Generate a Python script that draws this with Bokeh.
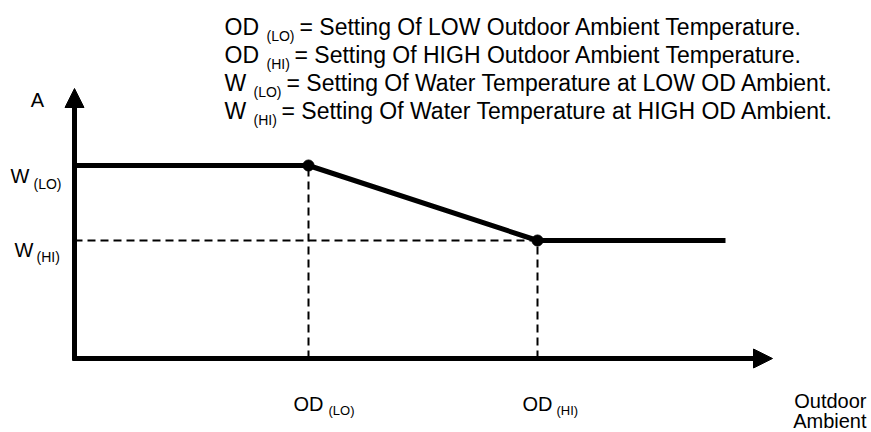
from bokeh.plotting import figure
from bokeh.models import Range1d, Label, Arrow, NormalHead
from bokeh.embed import file_html
from bokeh.resources import INLINE

# ---- data (diagram units: origin at axes intersection) ----
od_lo, od_hi = 234, 463          # outdoor ambient set points
w_lo, w_hi = 193, 118            # water temperature set points
x_end = 651                      # end of curve
x_axis_len, y_axis_len = 698, 270
curve_x = [0, od_lo, od_hi, x_end]
curve_y = [w_lo, w_lo, w_hi, w_hi]
point_x = [od_lo, od_hi]
point_y = [w_lo, w_hi]

legend_main = ["OD", "OD", "W", "W"]
legend_sub = ["(LO)", "(HI)", "(LO)", "(HI)"]
legend_rest = [
    "= Setting Of LOW Outdoor Ambient Temperature.",
    "= Setting Of HIGH Outdoor Ambient Temperature.",
    "= Setting Of Water Temperature at LOW OD Ambient.",
    "= Setting Of Water Temperature at HIGH OD Ambient.",
]

FONT = "Liberation Sans"
W, H = 871, 432
X0, Y0 = 74, 358   # page position of origin


def px(x):
    return x - X0


def py(y):
    return Y0 - y


p = figure(width=W, height=H, output_backend="svg", toolbar_location=None,
           x_range=Range1d(-X0, W - X0), y_range=Range1d(Y0 - H, Y0),
           min_border=0)
p.axis.visible = False
p.grid.visible = False
p.outline_line_color = None
p.background_fill_color = "white"
p.border_fill_color = "white"

# dashed guides
p.segment(x0=[0], y0=[w_hi], x1=[od_hi], y1=[w_hi],
          line_color="black", line_width=2, line_dash="8 5")
p.segment(x0=point_x, y0=[0, 0], x1=point_x, y1=point_y,
          line_color="black", line_width=2, line_dash="8 5")

# curve
p.line(curve_x, curve_y, line_color="black", line_width=5)
p.scatter(point_x, point_y, size=11, color="black")

# axes with arrows
p.add_layout(Arrow(end=NormalHead(size=19, fill_color="black", line_color="black"),
                   x_start=-2, y_start=0, x_end=x_axis_len, y_end=0,
                   line_width=5, line_color="black"))
p.add_layout(Arrow(end=NormalHead(size=19, fill_color="black", line_color="black"),
                   x_start=0, y_start=-2, x_end=0, y_end=y_axis_len,
                   line_width=5, line_color="black"))


def lab(text, x, y, size=20, align="left", baseline="alphabetic"):
    p.add_layout(Label(x=x, y=y, text=text, text_font=FONT,
                       text_font_size=f"{size}px", text_color="black",
                       text_align=align, text_baseline=baseline))


# axis labels
lab("A", px(37), py(99), align="center")
lab("W", px(10), py(175))
lab("(LO)", px(33), py(183), size=14)
lab("W", px(14), py(249))
lab("(HI)", px(36), py(256), size=14)

lab("OD", px(293), py(403))
lab("(LO)", px(328), py(410), size=13)
lab("OD", px(522), py(403))
lab("(HI)", px(556), py(410), size=13)

lab("Outdoor", px(866), py(400), align="right")
lab("Ambient", px(866), py(420), align="right")

# legend
sub_dx = {"OD": 42, "W": 29}
sub_w = {"(LO)": 28, "(HI)": 23}
for i, (m, s, r) in enumerate(zip(legend_main, legend_sub, legend_rest)):
    base = 26 + 28 * i
    x_main = 224
    lab(m, px(x_main), py(base), size=23)
    lab(s, px(x_main + sub_dx[m]), py(base + 9), size=14)
    lab(r, px(x_main + sub_dx[m] + sub_w[s] + 5), py(base), size=23)

open("out.html", "w").write(file_html(p, INLINE))
